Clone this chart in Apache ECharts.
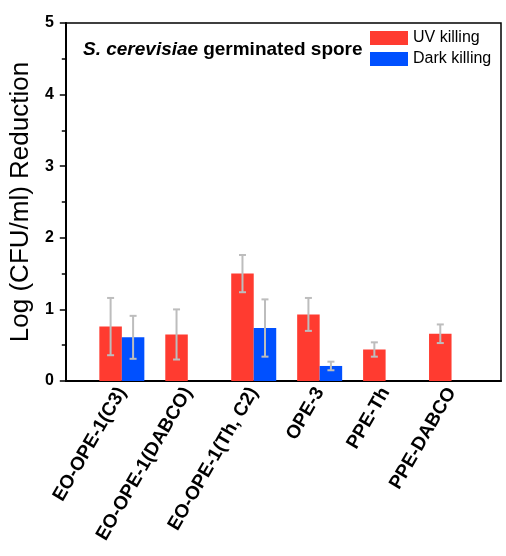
<!DOCTYPE html>
<html>
<head>
<meta charset="utf-8">
<script src="https://cdn.jsdelivr.net/npm/echarts@6/dist/echarts.min.js"></script>
<style>html,body{margin:0;padding:0;background:#fff;}#c{width:506px;height:556px;}</style>
</head>
<body>
<div id="c"></div>
<script>
const categories = ['EO-OPE-1(C3)', 'EO-OPE-1(DABCO)', 'EO-OPE-1(Th, C2)', 'OPE-3', 'PPE-Th', 'PPE-DABCO'];
const uvValues = [0.76, 0.65, 1.50, 0.93, 0.44, 0.66];
const uvErrors = [0.40, 0.35, 0.26, 0.23, 0.10, 0.13];
const darkValues = [0.61, null, 0.74, 0.21, null, null];
const darkErrors = [0.30, null, 0.40, 0.06, null, null];
const yTicks = [0, 1, 2, 3, 4, 5];

const BAR_W = 22.5;
const RED = '#FF3B30';
const BLUE = '#0050FF';
const ERR = '#BDBDBD';
const FONT = 'Liberation Sans, Arial, sans-serif';

const positions = categories.map((_, i) => i + 1);
const uvData = positions.map((p, i) => [p, uvValues[i]]);
const darkData = positions.map((p, i) => darkValues[i] == null ? null : [p, darkValues[i]]).filter(d => d);
const errData = [];
positions.forEach((p, i) => {
  errData.push([p, uvValues[i] - uvErrors[i], uvValues[i] + uvErrors[i], -1]);
  if (darkValues[i] != null) errData.push([p, darkValues[i] - darkErrors[i], darkValues[i] + darkErrors[i], 1]);
});

function renderErr(params, api) {
  const x = api.value(0), lo = api.value(1), hi = api.value(2), side = api.value(3);
  const pLo = api.coord([x, lo]);
  const pHi = api.coord([x, hi]);
  const cx = pLo[0] + side * BAR_W / 2;
  const cap = 3.5;
  const style = { stroke: ERR, lineWidth: 2, fill: null };
  return {
    type: 'group',
    children: [
      { type: 'line', shape: { x1: cx, y1: pLo[1], x2: cx, y2: pHi[1] }, style },
      { type: 'line', shape: { x1: cx - cap, y1: pLo[1], x2: cx + cap, y2: pLo[1] }, style },
      { type: 'line', shape: { x1: cx - cap, y1: pHi[1], x2: cx + cap, y2: pHi[1] }, style }
    ]
  };
}

const chart = echarts.init(document.getElementById('c'), null, { renderer: 'canvas' });
chart.setOption({
  animation: false,
  backgroundColor: '#fff',
  textStyle: { fontFamily: FONT },
  title: {
    left: 78, top: 35,
    text: '{i|S. cerevisiae} {b|germinated spore}',
    textStyle: {
      rich: {
        i: { fontFamily: FONT, fontSize: 19, fontWeight: 'bold', fontStyle: 'italic', color: '#000' },
        b: { fontFamily: FONT, fontSize: 19, fontWeight: 'bold', color: '#000' }
      }
    }
  },
  legend: {
    data: ['UV killing', 'Dark killing'],
    orient: 'vertical',
    left: 365, top: 25,
    icon: 'rect',
    itemWidth: 38, itemHeight: 14, itemGap: 5,
    textStyle: { fontFamily: FONT, fontSize: 16, color: '#000' }
  },
  grid: {
    left: 63, top: 23, right: 5, bottom: 175,
    show: true, borderColor: '#000', borderWidth: 1.5, backgroundColor: 'transparent'
  },
  xAxis: {
    type: 'value',
    min: 0.15, max: 6.75,
    axisLine: { show: true, onZero: false, lineStyle: { color: '#000', width: 2 } },
    axisTick: { show: false },
    splitLine: { show: false },
    axisLabel: {
      customValues: positions,
      formatter: v => categories[Math.round(v) - 1] || '',
      rotate: 60, margin: 8,
      fontFamily: FONT, fontSize: 19, fontWeight: 'bold', color: '#000'
    }
  },
  yAxis: {
    type: 'value',
    min: yTicks[0], max: yTicks[yTicks.length - 1], interval: 1,
    name: 'Log (CFU/ml) Reduction',
    nameLocation: 'middle', nameGap: 30,
    nameTextStyle: { fontFamily: FONT, fontSize: 26, color: '#000' },
    axisLine: { show: true, lineStyle: { color: '#000', width: 2 } },
    axisTick: { show: true, inside: false, length: 6, lineStyle: { color: '#000', width: 1.5 } },
    minorTick: { show: true, splitNumber: 2, length: 4, lineStyle: { color: '#000', width: 1.5 } },
    splitLine: { show: false },
    axisLabel: { margin: 12, fontFamily: FONT, fontSize: 16, fontWeight: 'bold', color: '#000' }
  },
  series: [
    { name: 'UV killing', type: 'bar', data: uvData, barWidth: BAR_W, barGap: '0%', itemStyle: { color: RED } },
    { name: 'Dark killing', type: 'bar', data: darkData, barWidth: BAR_W, barGap: '0%', itemStyle: { color: BLUE } },
    { name: 'err', type: 'custom', data: errData, renderItem: renderErr, encode: { x: 0, y: [1, 2] }, z: 5 }
  ]
});
</script>
</body>
</html>
